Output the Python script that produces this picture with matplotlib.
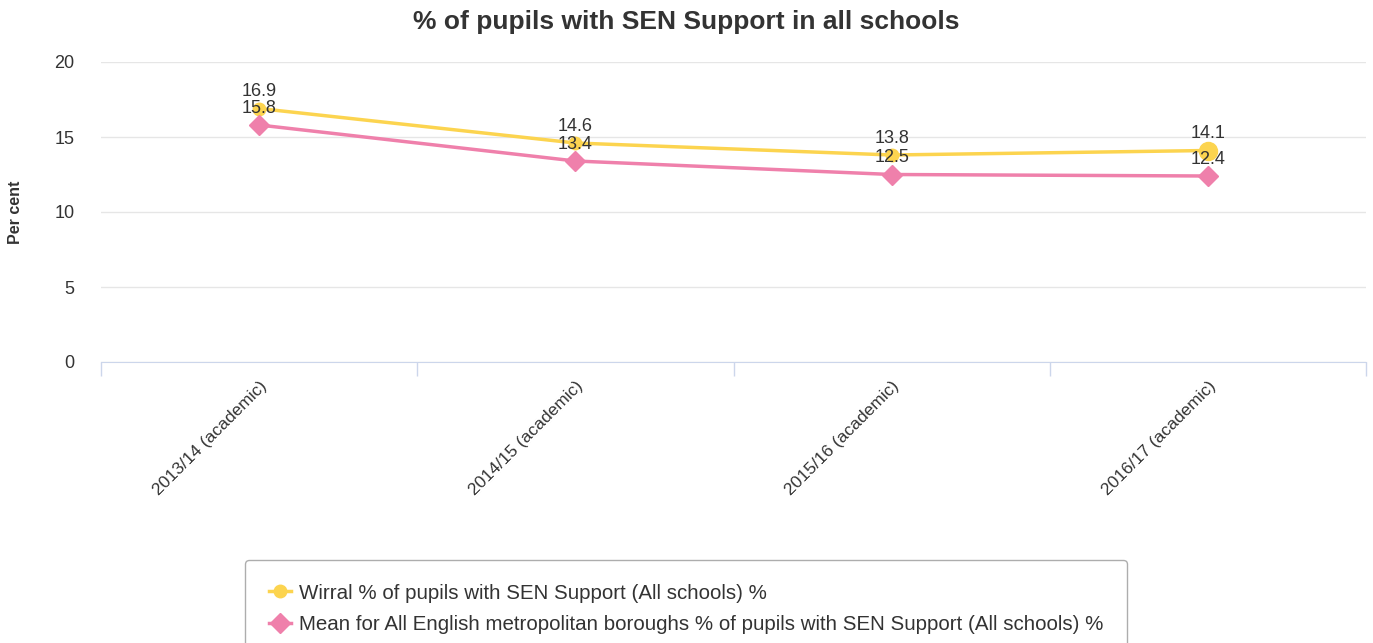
import matplotlib
matplotlib.use('Agg')
import matplotlib.pyplot as plt

plt.rcParams['font.family'] = ['Liberation Sans', 'DejaVu Sans']

# data
years = ['2013/14 (academic)', '2014/15 (academic)', '2015/16 (academic)', '2016/17 (academic)']
wirral = [16.9, 14.6, 13.8, 14.1]
mets = [15.8, 13.4, 12.5, 12.4]
yticks = [0, 5, 10, 15, 20]

yellow = '#fcd44f'
pink = '#ef80ab'

fig = plt.figure(figsize=(13.73, 6.43), dpi=100)
ax = fig.add_axes([101/1373, 1-362/643, (1366-101)/1373, 300/643])

x = list(range(len(years)))
ax.plot(x, wirral, color=yellow, lw=2.5, marker='o', ms=9, zorder=3,
        label='Wirral % of pupils with SEN Support (All schools) %')
ax.plot(x[-1], wirral[-1], 'o', color=yellow, ms=13, zorder=3)
ax.plot(x, mets, color=pink, lw=2.5, marker='D', ms=10, zorder=3,
        label='Mean for All English metropolitan boroughs % of pupils with SEN Support (All schools) %')

# data labels
for i in x:
    ax.annotate(f'{wirral[i]}', (i, wirral[i]), xytext=(0, 12), textcoords='offset points',
                ha='center', va='center', fontsize=13, color='#333333', zorder=5)
    ax.annotate(f'{mets[i]}', (i, mets[i]), xytext=(0, 12), textcoords='offset points',
                ha='center', va='center', fontsize=13, color='#333333', zorder=5)

ax.set_xlim(-0.5, 3.5)
ax.set_ylim(0, 20)
ax.set_yticks(yticks)
ax.tick_params(axis='y', length=0, pad=19, labelsize=13, labelcolor='#333333')
ax.grid(axis='y', color='#e6e6e6', lw=1)
ax.set_axisbelow(True)

ax.set_xticks([i - 0.5 for i in range(len(years) + 1)], minor=False)
ax.set_xticklabels([])
ax.tick_params(axis='x', length=10, color='#ccd6eb', width=1)
ax.set_xticks(x, minor=True)
ax.set_xticklabels(years, minor=True, rotation=45, ha='right', rotation_mode='anchor',
                   fontsize=12.5, color='#333333')
ax.tick_params(axis='x', which='minor', length=0, pad=12)

for s in ['top', 'right', 'left']:
    ax.spines[s].set_visible(False)
ax.spines['bottom'].set_color('#ccd6eb')

fig.text(16/1373, 1-212/643, 'Per cent', rotation=90, ha='center', va='center',
         fontsize=11.5, fontweight='bold', color='#333333')
fig.text(0.5, 1-22/643, '% of pupils with SEN Support in all schools', ha='center', va='center',
         fontsize=19, fontweight='bold', color='#333333')

leg = fig.legend(loc='upper left', bbox_to_anchor=(245/1373, 1-560/643), fontsize=14.8,
                 frameon=True, fancybox=True, edgecolor='#999999', handlelength=1.1,
                 labelspacing=0.6, borderpad=1.15, handletextpad=0.4, labelcolor='#333333',
                 borderaxespad=0)
leg.get_frame().set_linewidth(1)

fig.savefig('out.png', dpi=100)
